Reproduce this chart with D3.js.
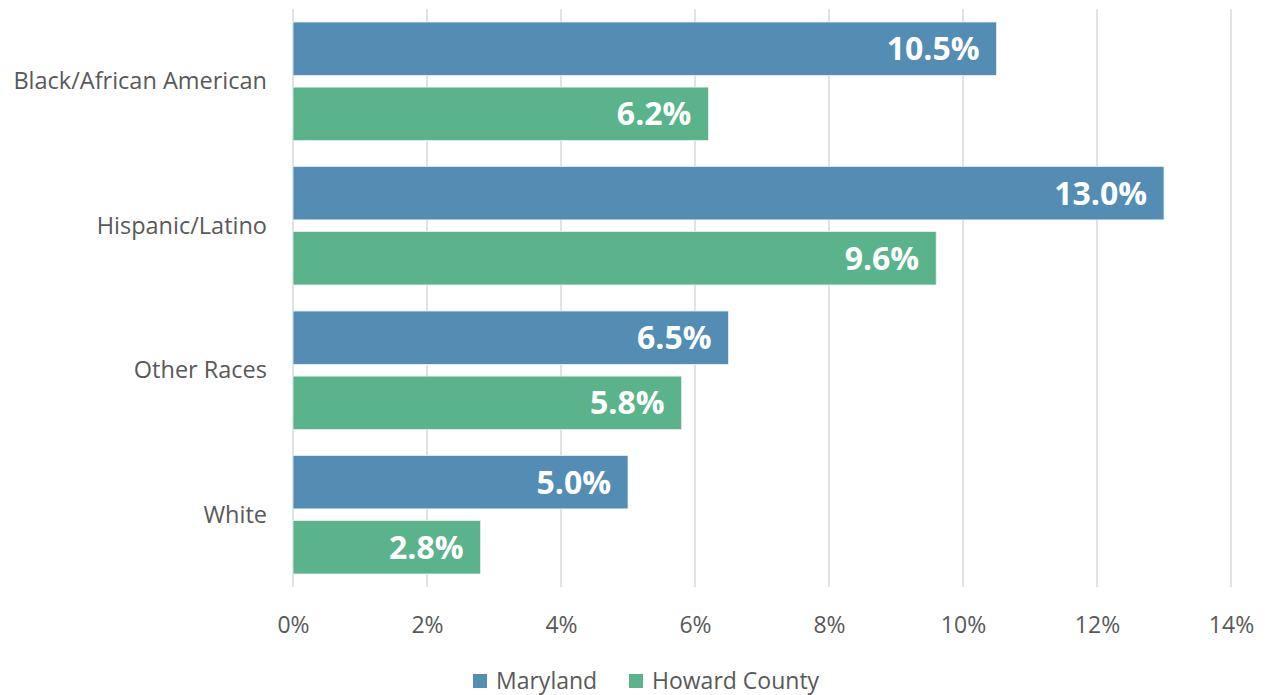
<!DOCTYPE html>
<html>
<head>
<meta charset="utf-8">
<script src="https://cdn.jsdelivr.net/npm/d3@7"></script>
<style>
  body { margin: 0; background: #fff; }
  svg text { font-family: "Open Sans", "Noto Sans", sans-serif; }
</style>
</head>
<body>
<div id="chart"></div>
<script>
// data
var categories = ["Black/African American", "Hispanic/Latino", "Other Races", "White"];
var series = ["Maryland", "Howard County"];
var maryland = [10.5, 13.0, 6.5, 5.0];
var howard = [6.2, 9.6, 5.8, 2.8];
var ticks = [0, 2, 4, 6, 8, 10, 12, 14];
var colors = ["#548db4", "#5bb38b"];

var width = 1266, height = 695;
var svg = d3.select("#chart").append("svg")
    .attr("width", width)
    .attr("height", height);

var x = d3.scaleLinear().domain([0, 14]).range([293, 1231]);
var y = d3.scaleBand().domain(categories).range([9, 587]);
var ySub = d3.scaleBand().domain(series).range([0, y.bandwidth()])
    .paddingInner(0.18).paddingOuter(0.2);

// gridlines
svg.append("g").selectAll("line")
    .data(ticks)
    .enter().append("line")
    .attr("x1", d => x(d)).attr("x2", d => x(d))
    .attr("y1", 9).attr("y2", 587)
    .attr("stroke", "#d9d9d9")
    .attr("stroke-width", 1.5);

// x axis labels
var xAxis = d3.axisBottom(x).tickValues(ticks).tickSize(0).tickPadding(0)
    .tickFormat(d => d + "%");
var gx = svg.append("g").attr("transform", "translate(0,625)").call(xAxis);
gx.select(".domain").remove();
gx.selectAll("text")
    .attr("font-size", 23)
    .attr("fill", "#595959")
    .attr("dy", "0.35em");

// category labels
svg.append("g").selectAll("text")
    .data(categories)
    .enter().append("text")
    .attr("x", 267)
    .attr("y", d => y(d) + y.bandwidth() / 2)
    .attr("dy", "0.35em")
    .attr("text-anchor", "end")
    .attr("font-size", 23.5)
    .attr("fill", "#595959")
    .text(d => d);

// bars
var rows = [];
categories.forEach(function (c, i) {
    rows.push({ cat: c, s: series[0], v: maryland[i], col: colors[0] });
    rows.push({ cat: c, s: series[1], v: howard[i], col: colors[1] });
});

svg.append("g").selectAll("rect")
    .data(rows)
    .enter().append("rect")
    .attr("x", x(0))
    .attr("y", d => y(d.cat) + ySub(d.s))
    .attr("width", d => x(d.v) - x(0))
    .attr("height", ySub.bandwidth())
    .attr("fill", d => d.col)
    .attr("stroke", "#e8eef3")
    .attr("stroke-width", 0.8);

svg.append("g").selectAll("text")
    .data(rows)
    .enter().append("text")
    .attr("x", d => x(d.v) - 17)
    .attr("y", d => y(d.cat) + ySub(d.s) + ySub.bandwidth() / 2)
    .attr("dy", "0.36em")
    .attr("text-anchor", "end")
    .attr("font-size", 32)
    .attr("font-weight", "bold")
    .attr("fill", "#fff")
    .text(d => d.v.toFixed(1) + "%");

// legend
var legend = svg.append("g").attr("transform", "translate(473,681)");
var lx = [0, 156];
series.forEach(function (s, i) {
    legend.append("rect")
        .attr("x", lx[i]).attr("y", -7)
        .attr("width", 14).attr("height", 14)
        .attr("fill", colors[i]);
    legend.append("text")
        .attr("x", lx[i] + 23).attr("y", 0)
        .attr("dy", "0.35em")
        .attr("font-size", 23)
        .attr("fill", "#595959")
        .text(s);
});
</script>
</body>
</html>
